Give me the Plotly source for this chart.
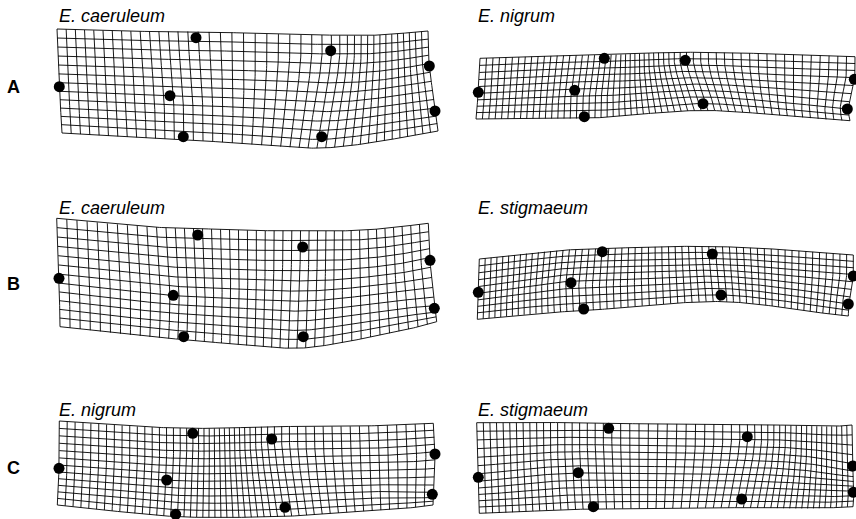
import numpy as np
import plotly.graph_objects as go

# ---------------- data ----------------
TITLES = ["E. caeruleum", "E. nigrum", "E. caeruleum", "E. stigmaeum", "E. nigrum", "E. stigmaeum"]
ROW_LABELS = ["A", "B", "C"]

# landmark coordinates (local panel units, y downward)
LM_A1_X = [14.3, 151.0, 125.0, 138.3, 285.7, 276.7, 384.3, 390.0]
LM_A1_Y = [66.7, 17.7, 75.7, 116.7, 30.7, 116.7, 46.0, 91.0]
LM_A2_X = [18.3, 144.3, 114.7, 124.3, 225.3, 243.0, 394.3, 387.3]
LM_A2_Y = [72.3, 38.3, 70.3, 96.7, 40.3, 83.7, 59.3, 89.0]
LM_B1_X = [14.0, 152.7, 128.3, 138.7, 257.7, 258.3, 385.0, 389.3]
LM_B1_Y = [66.3, 23.0, 83.3, 124.7, 35.0, 124.7, 48.3, 96.3]
LM_B2_X = [18.3, 142.3, 111.0, 123.7, 252.3, 261.0, 393.3, 388.3]
LM_B2_Y = [80.3, 39.7, 70.7, 97.0, 42.0, 83.0, 64.0, 92.0]
LM_C1_X = [14.0, 147.7, 121.7, 130.7, 226.7, 240.0, 390.0, 387.3]
LM_C1_Y = [56.3, 21.3, 68.0, 102.3, 27.0, 95.3, 42.0, 82.3]
LM_C2_X = [18.3, 148.7, 118.3, 133.3, 287.3, 281.7, 392.7, 393.3]
LM_C2_Y = [65.3, 16.3, 60.7, 94.7, 24.7, 87.0, 54.0, 80.3]

# deformed grid outline corners (top-left, top-right, bottom-right, bottom-left)
GC_A1_X = [12.0, 383.0, 393.0, 17.0]
GC_A1_Y = [9.0, 11.0, 111.0, 113.0]
GC_A2_X = [20.0, 395.0, 390.0, 16.0]
GC_A2_Y = [38.3, 36.7, 100.7, 99.0]
GC_B1_X = [11.7, 383.3, 391.7, 15.0]
GC_B1_Y = [6.3, 11.3, 109.7, 114.7]
GC_B2_X = [19.3, 393.3, 388.3, 17.3]
GC_B2_Y = [47.0, 43.0, 104.0, 107.3]
GC_C1_X = [14.3, 388.3, 388.0, 12.3]
GC_C1_Y = [9.0, 11.3, 93.0, 93.0]
GC_C2_X = [16.7, 392.0, 393.0, 19.3]
GC_C2_Y = [10.7, 13.0, 94.7, 101.3]

LANDMARKS = [(LM_A1_X, LM_A1_Y), (LM_A2_X, LM_A2_Y), (LM_B1_X, LM_B1_Y),
             (LM_B2_X, LM_B2_Y), (LM_C1_X, LM_C1_Y), (LM_C2_X, LM_C2_Y)]
CORNERS = [(GC_A1_X, GC_A1_Y), (GC_A2_X, GC_A2_Y), (GC_B1_X, GC_B1_Y),
           (GC_B2_X, GC_B2_Y), (GC_C1_X, GC_C1_Y), (GC_C2_X, GC_C2_Y)]

GRID_COLS = [42, 56, 41, 57, 51, 53]
GRID_ROWS = [12, 9, 12, 9, 12, 12]

# ---------------- layout (pixels) ----------------
W, H = 856, 519
COL_X = [(45, 445), (460, 856)]
ROW_Y = [(20, 150), (212, 352), (412, 519)]


def U(d):
    with np.errstate(divide="ignore", invalid="ignore"):
        r = np.where(d > 0, d * d * np.log(d * d), 0.0)
    return r


def tps_fit(src, dst):
    n = len(src)
    d = np.linalg.norm(src[:, None, :] - src[None, :, :], axis=2)
    K = U(d)
    P = np.hstack([np.ones((n, 1)), src])
    L = np.zeros((n + 3, n + 3))
    L[:n, :n] = K
    L[:n, n:] = P
    L[n:, :n] = P.T
    Y = np.vstack([dst, np.zeros((3, 2))])
    return np.linalg.solve(L, Y)


def tps_apply(src, coef, pts):
    n = len(src)
    d = np.linalg.norm(pts[:, None, :] - src[None, :, :], axis=2)
    return U(d) @ coef[:n] + coef[n] + pts @ coef[n + 1:]


# consensus (reference) configuration from the six targets
targets = [np.column_stack([np.array(x, float), np.array(y, float)]) for x, y in LANDMARKS]
outlines = [np.column_stack([np.array(x, float), np.array(y, float)]) for x, y in CORNERS]
norm = []
for T in targets:
    c = T - T.mean(axis=0)
    norm.append(c / np.sqrt((c ** 2).sum()))
ref = np.mean(norm, axis=0)
xmin, ymin = ref.min(axis=0)
xmax, ymax = ref.max(axis=0)
rx, ry = xmax - xmin, ymax - ymin
gx0, gx1 = xmin, xmax
gy0, gy1 = ymin - 0.06 * ry, ymax + 0.03 * ry
ref_corners = np.array([[gx0, gy0], [gx1, gy0], [gx1, gy1], [gx0, gy1]])
src = np.vstack([ref, ref_corners])

fig = go.Figure()
layout = {}

for i, (T, O, title) in enumerate(zip(targets, outlines, TITLES)):
    r, c = divmod(i, 2)
    x0, x1 = COL_X[c]
    y0, y1 = ROW_Y[r]
    pw, ph = x1 - x0, y1 - y0
    k = "" if i == 0 else str(i + 1)
    xa, ya = "x" + k, "y" + k

    coef = tps_fit(src, np.vstack([T, O]))
    nc, nr = GRID_COLS[i], GRID_ROWS[i]
    xs, ys = [], []
    tx = np.linspace(gx0, gx1, 200)
    for gy in np.linspace(gy0, gy1, nr + 1):
        p = tps_apply(src, coef, np.column_stack([tx, np.full_like(tx, gy)]))
        xs += list(p[:, 0]) + [None]
        ys += list(p[:, 1]) + [None]
    ty = np.linspace(gy0, gy1, 40)
    for gx in np.linspace(gx0, gx1, nc + 1):
        p = tps_apply(src, coef, np.column_stack([np.full_like(ty, gx), ty]))
        xs += list(p[:, 0]) + [None]
        ys += list(p[:, 1]) + [None]

    fig.add_trace(go.Scatter(x=xs, y=ys, mode="lines", xaxis=xa, yaxis=ya,
                             line=dict(color="rgba(0,0,0,0.9)", width=1),
                             hoverinfo="skip", showlegend=False))
    fig.add_trace(go.Scatter(x=T[:, 0], y=T[:, 1], mode="markers", xaxis=xa, yaxis=ya,
                             marker=dict(color="black", size=11),
                             showlegend=False))

    layout["xaxis" + k] = dict(domain=[x0 / W, x1 / W], range=[0, pw], visible=False,
                               anchor=ya, fixedrange=True)
    layout["yaxis" + k] = dict(domain=[1 - y1 / H, 1 - y0 / H], range=[ph, 0], visible=False,
                               anchor=xa, fixedrange=True)

    tx_px = 57 if c == 0 else 476
    ty_px = [16.5, 208, 410][r]
    fig.add_annotation(text="<i>%s</i>" % title, xref="paper", yref="paper",
                       x=tx_px / W, y=1 - ty_px / H, xanchor="left", yanchor="middle",
                       showarrow=False, font=dict(family="Liberation Sans", size=18, color="black"))

for r, lab in enumerate(ROW_LABELS):
    ly = [87.5, 284, 468][r]
    fig.add_annotation(text="<b>%s</b>" % lab, xref="paper", yref="paper",
                       x=13.5 / W, y=1 - ly / H, xanchor="center", yanchor="middle",
                       showarrow=False, font=dict(family="Liberation Sans", size=18, color="black"))

fig.update_layout(width=W, height=H, margin=dict(l=0, r=0, t=0, b=0),
                  paper_bgcolor="white", plot_bgcolor="white", **layout)
fig.write_html("out.html", config={"displayModeBar": False},
               post_script="document.body.style.margin='0px';document.body.style.overflow='hidden';")
